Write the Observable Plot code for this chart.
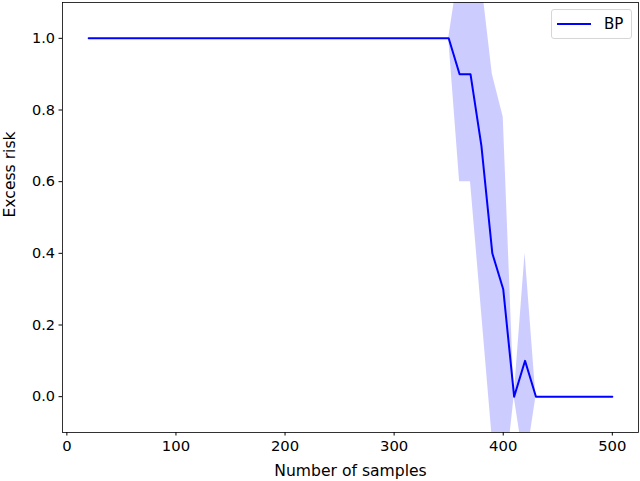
<!DOCTYPE html>
<html><head><meta charset="utf-8">
<script src="https://cdn.jsdelivr.net/npm/d3@7"></script>
<script src="https://cdn.jsdelivr.net/npm/@observablehq/plot@0.6"></script>
<style>
body{margin:0;background:#fff;}
#wrap{position:relative;width:640px;height:481px;font-family:"DejaVu Sans",sans-serif;}
.legend{position:absolute;left:551px;top:9px;width:81px;height:30px;border:1px solid #d6d6d6;border-radius:3px;background:rgba(255,255,255,0.8);box-sizing:border-box;display:flex;align-items:center;font-size:15px;color:#000;}
.legend svg{margin-left:5px;margin-right:13px;}
</style></head>
<body><div id="wrap"></div>
<script>
const samples = [20,30,40,50,60,70,80,90,100,110,120,130,140,150,160,170,180,190,200,210,220,230,240,250,260,270,280,290,300,310,320,330,340,350,360,370,380,390,400,410,420,430,440,450,460,470,480,490,500];
const risk =      [1,1,1,1,1,1,1,1,1,1,1,1,1,1,1,1,1,1,1,1,1,1,1,1,1,1,1,1,1,1,1,1,1,1,0.9,0.9,0.7,0.4,0.3,0,0.1,0,0,0,0,0,0,0,0];
const riskUpper = [1,1,1,1,1,1,1,1,1,1,1,1,1,1,1,1,1,1,1,1,1,1,1,1,1,1,1,1,1,1,1,1,1,1,1.2,1.2,1.16,0.9,0.78,0,0.4,0,0,0,0,0,0,0,0];
const riskLower = [1,1,1,1,1,1,1,1,1,1,1,1,1,1,1,1,1,1,1,1,1,1,1,1,1,1,1,1,1,1,1,1,1,1,0.6,0.6,0.24,-0.12,-0.28,0,-0.2,0,0,0,0,0,0,0,0];
const xTicks = [0,100,200,300,400,500];
const yTicks = [0,0.2,0.4,0.6,0.8,1.0];
const seriesName = "BP";
const xLabel = "Number of samples";
const yLabel = "Excess risk";

const data = samples.map((x,i)=>({x, y:risk[i], hi:riskUpper[i], lo:riskLower[i]}));
const chart = Plot.plot({
  width:640, height:481, marginLeft:62, marginRight:2, marginTop:2, marginBottom:49,
  style:{fontFamily:"DejaVu Sans", fontSize:"14.5px", color:"#000", background:"#fff"},
  x:{domain:[-4,524]}, y:{domain:[-0.1,1.1]},
  marks:[
    Plot.areaY(data,{x:"x", y1:"lo", y2:"hi", fill:"blue", fillOpacity:0.2, clip:true}),
    Plot.lineY(data,{x:"x", y:"y", stroke:"blue", strokeWidth:2, clip:true}),
    Plot.frame({stroke:"#000", strokeWidth:0.8}),
    Plot.axisX({ticks:xTicks, tickSize:3.5, tickPadding:4, label:null, tickFormat:d3.format("d"), fontSize:14.8}),
    Plot.axisY({ticks:yTicks, tickSize:3.5, tickPadding:4, label:null, tickFormat:d3.format(".1f"), fontSize:14.5}),
    Plot.text([xLabel], {frameAnchor:"bottom", dy:38, text:d=>d, lineAnchor:"middle", fontSize:15.6, fill:"#000"}),
    Plot.text([yLabel], {frameAnchor:"left", dx:-53, rotate:-90, text:d=>d, fontSize:15.6, fill:"#000"})
  ]
});
const wrap = document.getElementById("wrap");
wrap.appendChild(chart);
const lg = document.createElement("div");
lg.className = "legend";
lg.innerHTML = '<svg width="34" height="4"><line x1="0" x2="34" y1="2" y2="2" stroke="blue" stroke-width="2"/></svg><span></span>';
lg.querySelector("span").textContent = seriesName;
wrap.appendChild(lg);
</script>
</body></html>
